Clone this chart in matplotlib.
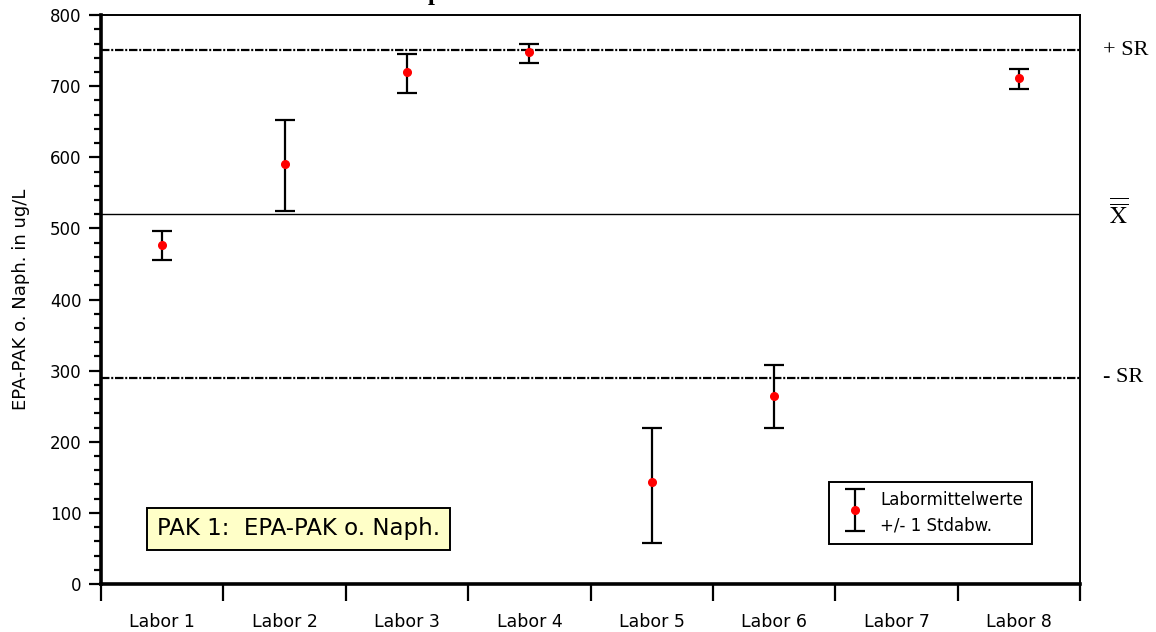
import matplotlib.pyplot as plt
import matplotlib.transforms as mtransforms
from matplotlib.legend_handler import HandlerErrorbar
import numpy as np

plt.rcParams['font.family'] = ['DejaVu Sans']
plt.rcParams['mathtext.fontset'] = 'stix'

# Labormittelwerte und Standardabweichungen (Labor 7 ohne Wert)
labore = ['Labor 1', 'Labor 2', 'Labor 3', 'Labor 4', 'Labor 5', 'Labor 6', 'Labor 7', 'Labor 8']
mittelwerte = [477, 591, 720, 748, 143, 265, np.nan, 712]
oben = [496, 653, 746, 760, 219, 308, np.nan, 724]
unten = [455, 524, 690, 733, 58, 219, np.nan, 696]

gesamt_mittel = 520
plus_sr = 751
minus_sr = 290

fig = plt.figure(figsize=(11.56, 6.32), dpi=100)
ax = fig.add_axes([0.0874, 0.076, 0.847, 0.9])

x = np.arange(len(labore)) + 0.5
mw = np.array(mittelwerte)
fehler = [mw - np.array(unten), np.array(oben) - mw]

ax.axhline(plus_sr, color='black', lw=1.6, ls=(0, (3.8, 0.8, 0.9, 0.8)), zorder=1)
ax.axhline(minus_sr, color='black', lw=1.6, ls=(0, (3.8, 0.8, 0.9, 0.8)), zorder=1)
ax.axhline(gesamt_mittel, color='black', lw=1.0, zorder=1)

eb = ax.errorbar(x, mw, yerr=fehler, fmt='o', color='red', ms=5.5, mec='red',
                 ecolor='black', elinewidth=1.6, capsize=7, capthick=1.6,
                 label='Labormittelwerte\n+/- 1 Stdabw.', zorder=3)

ax.set_xlim(0, len(labore))
ax.set_ylim(0, 800)
ax.set_xticks(np.arange(len(labore) + 1))
ax.set_xticklabels([])
ax.set_xticks(x, minor=True)
ax.set_xticklabels(labore, minor=True, fontsize=12.5)
ax.tick_params(axis='x', which='major', direction='out', length=12, width=1.6)
ax.tick_params(axis='x', which='minor', length=0, pad=21)

ax.set_yticks(np.arange(0, 801, 100))
ax.set_yticks(np.arange(0, 801, 20), minor=True)
ax.tick_params(axis='y', which='major', direction='out', length=9, width=1.6, labelsize=12, pad=5)
ax.tick_params(axis='y', which='minor', direction='out', length=5, width=1.6)
ax.set_ylabel('EPA-PAK o. Naph. in ug/L', fontsize=13)
ax.yaxis.set_label_coords(-0.073, 0.5)

ax.spines['left'].set_linewidth(2.6)
ax.spines['bottom'].set_linewidth(2.6)
ax.spines['top'].set_linewidth(1.4)
ax.spines['right'].set_linewidth(1.4)

# Beschriftung der Grenzlinien rechts neben der Achse
trans = mtransforms.blended_transform_factory(ax.transAxes, ax.transData)
ax.text(1.0235, plus_sr, '+ SR', transform=trans, fontsize=16,
        family='Liberation Serif', va='center', ha='left')
ax.text(1.0235, minus_sr, '- SR', transform=trans, fontsize=16,
        family='Liberation Serif', va='center', ha='left')
ax.text(1.0295, gesamt_mittel, r'$\overline{\overline{\mathrm{X}}}$', transform=trans,
        fontsize=17, va='center', ha='left')

ax.text(0.2017, 0.0967, 'PAK 1:  EPA-PAK o. Naph.', transform=ax.transAxes,
        fontsize=16.5, ha='center', va='center',
        bbox=dict(boxstyle='square,pad=0.42', fc='#FFFFC8', ec='black', lw=1.4))

leg = ax.legend(loc='lower right', bbox_to_anchor=(0.951, 0.0703), fontsize=12,
                fancybox=False, edgecolor='black', framealpha=1, handleheight=2.4,
                handlelength=2.0, borderpad=0.55, borderaxespad=0,
                handletextpad=0.5,
                handler_map={type(eb): HandlerErrorbar(yerr_size=1.25)})
leg.get_frame().set_linewidth(1.4)
for t in leg.get_texts():
    t.set_linespacing(1.55)

fig.text(0.272, 0.9995, 'Mittelwertplot', fontsize=18, fontweight='bold',
         family='Liberation Serif', ha='left', va='baseline')

fig.savefig('out.png', dpi=100)
